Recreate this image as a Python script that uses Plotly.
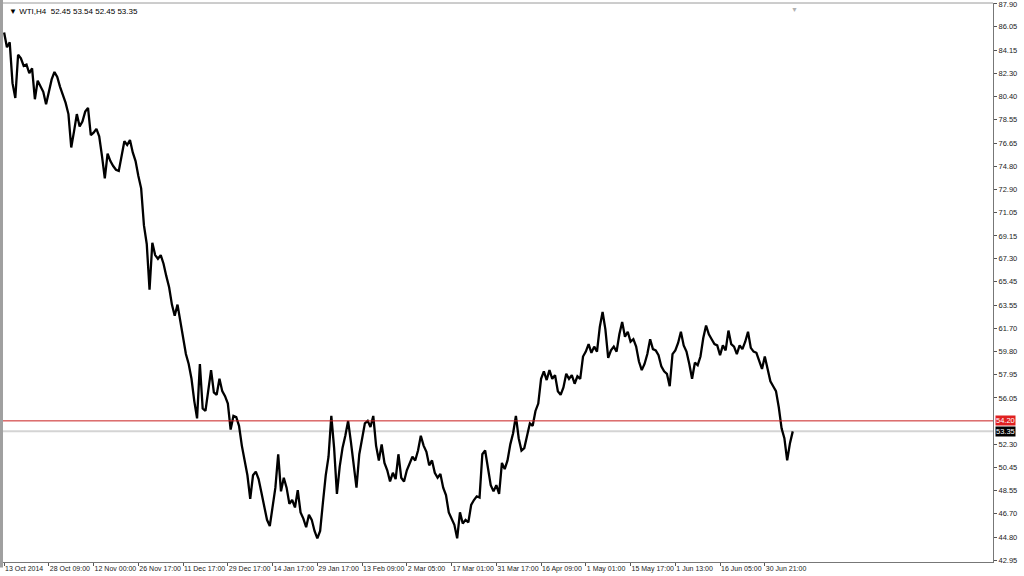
import plotly.graph_objects as go

prices = [
    # 13 Oct 2014 block
    85.6, 84.4, 84.8, 81.5, 80.3, 83.8, 83.5, 82.9, 83.0, 82.3, 82.7, 80.2, 81.7, 81.2, 80.8, 79.8,
    # 28 Oct
    80.8, 81.8, 82.4, 82.0, 81.2, 80.6, 79.9, 79.0, 76.3, 77.6, 79.0, 78.0, 78.4, 79.2, 79.5, 77.3,
    # 12 Nov
    77.5, 77.8, 77.2, 75.6, 73.8, 75.8, 75.2, 74.8, 74.5, 74.4, 75.5, 76.8, 76.5, 76.9, 75.9, 75.2,
    # 26 Nov
    74.0, 73.0, 70.0, 68.5, 64.8, 68.6, 67.6, 67.3, 67.6, 66.9, 65.9, 65.0, 63.6, 62.7, 63.6, 62.2,
    # 11 Dec
    61.0, 59.6, 58.8, 57.6, 55.8, 54.4, 58.8, 55.2, 55.0, 56.6, 58.3, 56.5, 56.3, 57.6, 56.6, 56.2,
    # 29 Dec
    55.6, 53.5, 54.6, 54.5, 53.8, 52.2, 50.9, 49.8, 47.9, 49.8, 50.1, 49.5, 48.4, 47.2, 46.2, 45.7,
    # 14 Jan 2015
    47.3, 48.8, 51.5, 48.5, 49.6, 48.8, 47.5, 47.8, 47.2, 48.6, 46.8, 46.3, 45.6, 46.6, 46.2, 45.3,
    # 29 Jan
    44.7, 45.3, 47.6, 49.8, 51.3, 54.6, 52.0, 48.3, 50.5, 52.0, 53.0, 54.2, 52.5, 50.5, 48.8, 51.5,
    # 13 Feb
    52.6, 54.0, 54.2, 53.7, 54.6, 52.2, 51.0, 52.3, 50.8, 50.2, 49.3, 50.0, 49.5, 51.5, 49.6, 49.3,
    # 2 Mar
    50.2, 50.7, 51.3, 51.0, 51.8, 53.0, 52.2, 51.7, 50.6, 51.0, 50.0, 49.6, 49.9, 48.8, 48.2, 46.8,
    # 17 Mar
    46.3, 45.8, 44.7, 46.8, 45.9, 46.2, 46.0, 47.4, 47.8, 48.1, 48.0, 51.5, 51.8, 50.4, 49.0, 48.5,
    # 31 Mar
    49.0, 48.3, 50.8, 50.3, 51.0, 52.3, 53.2, 54.6, 52.8, 51.8, 52.0, 53.0, 54.0, 53.8, 55.0, 55.6,
    # 16 Apr
    57.6, 58.2, 57.5, 58.3, 57.6, 57.9, 56.6, 56.3, 56.9, 58.0, 57.6, 57.9, 57.2, 57.8, 57.6, 59.4,
    # 1 May
    59.8, 60.4, 59.7, 60.2, 59.8, 61.8, 63.0, 61.6, 59.3, 59.9, 60.2, 59.8, 61.2, 62.2, 61.0, 61.4,
    # 15 May
    60.6, 60.8, 60.2, 59.0, 58.3, 58.8, 59.6, 60.8, 60.0, 59.9, 59.5, 58.6, 58.2, 58.0, 57.0, 59.6,
    # 1 Jun
    59.9, 60.5, 61.4, 60.3, 59.8, 58.8, 57.6, 58.9, 58.7, 59.4, 60.9, 61.9, 61.2, 60.8, 60.4, 60.3,
    # 16 Jun
    59.5, 60.3, 59.9, 61.5, 60.4, 60.2, 59.6, 60.3, 60.0, 60.6, 61.4, 60.1, 59.8, 59.7, 59.1, 58.4,
    # 30 Jun
    59.4, 58.5, 57.4, 57.0, 56.6, 55.3, 53.6, 52.8, 51.0, 52.4, 53.35,
]

x_labels = ["13 Oct 2014", "28 Oct 09:00", "12 Nov 00:00", "26 Nov 17:00", "11 Dec 17:00",
            "29 Dec 17:00", "14 Jan 17:00", "29 Jan 17:00", "13 Feb 09:00", "2 Mar 05:00",
            "17 Mar 01:00", "31 Mar 17:00", "16 Apr 09:00", "1 May 01:00", "15 May 17:00",
            "1 Jun 13:00", "16 Jun 05:00", "30 Jun 21:00"]
samples_per_label = 16

y_ticks = [87.90, 86.05, 84.15, 82.30, 80.40, 78.55, 76.65, 74.80, 72.90, 71.05, 69.15,
           67.30, 65.45, 63.55, 61.70, 59.80, 57.95, 56.05, 52.30, 50.45, 48.55, 46.70,
           44.80, 42.95]

level_line = 54.20
bid_price = 53.35
title_text = "WTI,H4  52.45 53.54 52.45 53.35"

x_idx = list(range(len(prices)))
x_tickvals = [i * samples_per_label for i in range(len(x_labels))]

fig = go.Figure()
fig.add_trace(go.Scatter(x=x_idx, y=prices, mode="lines",
                         line=dict(color="black", width=2.3), hoverinfo="skip",
                         showlegend=False))

fig.update_layout(
    width=1024, height=576,
    margin=dict(l=3, r=31, t=3, b=14, autoexpand=False),
    paper_bgcolor="white", plot_bgcolor="white",
    font=dict(family="Liberation Sans, Arial, sans-serif", size=8, color="#222"),
    showlegend=False,
)
fig.update_xaxes(
    range=[-0.4, 353.6], showgrid=False, zeroline=False, automargin=False,
    tickmode="array", tickvals=x_tickvals, ticktext=x_labels, tickangle=0,
    ticks="outside", ticklen=3, tickcolor="#555", ticklabelposition="outside right",
    ticklabeloverflow="allow",
    showline=True, linecolor="#777", linewidth=1, mirror=False,
    tickfont=dict(size=7, color="#222"),
)
fig.update_yaxes(
    range=[42.79, 87.98], side="right", showgrid=False, zeroline=False, automargin=False,
    tickmode="array", tickvals=y_ticks, ticktext=[f"{v:.2f}" for v in y_ticks],
    ticks="outside", ticklen=3, tickcolor="#555", ticklabeloverflow="allow",
    showline=True, linecolor="#777", linewidth=1,
    tickfont=dict(size=7.5, color="#222"),
)

# bid line (light gray) and level line (red)
fig.add_shape(type="line", xref="paper", x0=0, x1=1, yref="y", y0=bid_price, y1=bid_price,
              line=dict(color="#d4d4d4", width=2), layer="below")
fig.add_shape(type="line", xref="paper", x0=0, x1=1, yref="y", y0=level_line, y1=level_line,
              line=dict(color="#c81e1e", width=1))
# frame: left gray strip and top line
fig.add_shape(type="rect", xref="paper", yref="paper", x0=-3/990, x1=0, y0=-0.01, y1=1.006,
              line=dict(width=0), fillcolor="#a0a0a0")
fig.add_shape(type="line", xref="paper", yref="paper", x0=0, x1=1, y0=1, y1=1,
              line=dict(color="#9a9a9a", width=1))

# price labels on the right axis
fig.add_annotation(xref="paper", yref="y", x=1.0, y=level_line, text="54.20",
                   xanchor="left", yanchor="middle", showarrow=False, xshift=2,
                   font=dict(size=7.5, color="white"), bgcolor="#e02020", borderpad=0)
fig.add_annotation(xref="paper", yref="y", x=1.0, y=bid_price, text="53.35",
                   xanchor="left", yanchor="middle", showarrow=False, xshift=2,
                   font=dict(size=7.5, color="white"), bgcolor="black", borderpad=0)

# title in the top-left corner
fig.add_annotation(xref="paper", yref="paper", x=0, y=1, xshift=4, yshift=-2,
                   text="\u25BC " + title_text, xanchor="left", yanchor="top",
                   showarrow=False, font=dict(size=8, color="black"))
# small shift marker at the top
fig.add_annotation(xref="paper", yref="paper", x=0.7996, y=1, yshift=-1,
                   text="\u25BC", xanchor="center", yanchor="top",
                   showarrow=False, font=dict(size=7, color="#b0b0b0"))

fig.write_html("out.html", config={"displayModeBar": False},
               post_script="document.body.style.margin='0';")
